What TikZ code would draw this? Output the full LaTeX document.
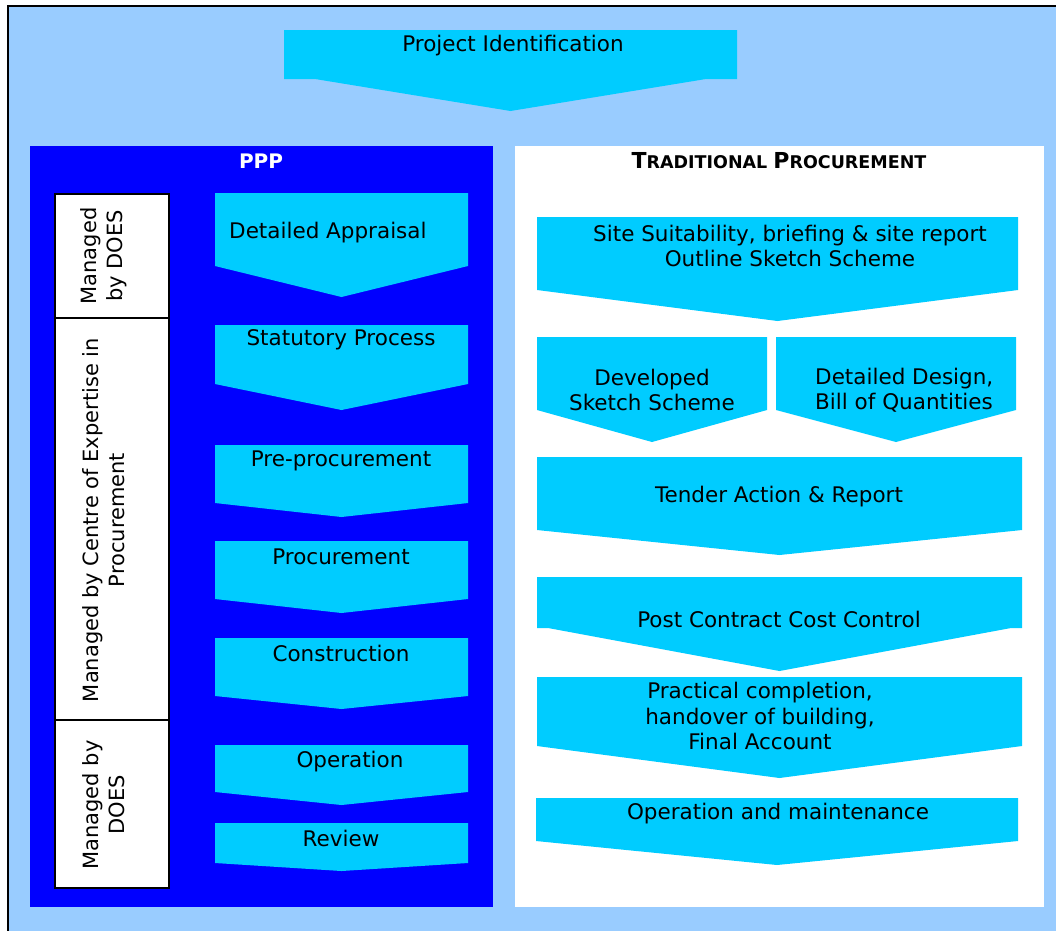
\documentclass[tikz,border=0pt]{standalone}
\usepackage{fontspec}
\setmainfont{DejaVu Sans}
\definecolor{frameblue}{HTML}{99CCFF}
\definecolor{cyanbox}{HTML}{00CCFF}
\definecolor{pppblue}{HTML}{0000FF}
\newcommand\chevshape[6]{% x1,x2,ytop,ybot,ytip,shoulder
  \fill[cyanbox] (#1,#3) -- (#2,#3) -- (#2,#4) -- ({#2-#6},#4) -- ({(#1+#2)/2},#5) -- ({#1+#6},#4) -- (#1,#4) -- cycle;}
\tikzset{
  lbl/.style={font=\fontsize{21.5}{25.5}\selectfont, text=black, align=center, inner sep=0pt, yshift=-2pt},
  sidebox/.style={draw=black, line width=2pt, fill=white},
  sidetext/.style={font=\fontsize{21}{26}\selectfont, rotate=90, align=center, inner sep=0pt}
}
\begin{document}
\begin{tikzpicture}[x=1pt,y=-1pt]
\useasboundingbox (0,0) rectangle (1056,930);
\clip (0,0) rectangle (1056,930);
\fill[white] (0,0) rectangle (1056,930);
% outer frame
\fill[frameblue, draw=black, line width=2pt] (8,6) rectangle (1080,960);
% project identification
\chevshape{284}{737}{30}{79}{111}{31}
\node[lbl] (proj) at (513,44) {Project Identification};
% panels
\fill[pppblue] (30,146) rectangle (493,907);
\fill[white] (515,146) rectangle (1044,907);
\node[font=\bfseries\fontsize{20}{24}\selectfont, text=white, inner sep=0pt] (ppp) at (261,161) {PPP};
\node[font=\bfseries, inner sep=0pt] (trad) at (779,161) {\fontsize{22}{24}\selectfont T\fontsize{17.5}{24}\selectfont RADITIONAL \fontsize{22}{24}\selectfont P\fontsize{17.5}{24}\selectfont ROCUREMENT};
% side boxes
\draw[sidebox] (55,194) rectangle (169,318);
\draw[sidebox] (55,318) rectangle (169,720);
\draw[sidebox] (55,720) rectangle (169,888);
\node[sidetext] (m1) at (104,256) {Managed\\by DOES};
\node[sidetext] (m2) at (104,520) {Managed by Centre of Expertise in\\Procurement};
\node[sidetext] (m3) at (104,805) {Managed by\\DOES};
% PPP chevrons
\chevshape{215}{468}{193}{266}{297}{0}
\chevshape{215}{468}{325}{384}{410}{0}
\chevshape{215}{468}{445}{503}{517}{0}
\chevshape{215}{468}{541}{599}{613}{0}
\chevshape{215}{468}{638}{696}{709}{0}
\chevshape{215}{468}{745}{792}{805}{0}
\chevshape{215}{468}{823}{863}{871}{0}
\node[lbl, anchor=west] (da) at (229,231) {Detailed Appraisal};
\node[lbl] (sp) at (341,338) {Statutory Process};
\node[lbl] (pre) at (341,459) {Pre-procurement};
\node[lbl] (proc) at (341,555) {Procurement};
\node[lbl] (cons) at (341,651) {Construction};
\node[lbl] (op) at (350,760) {Operation};
\node[lbl] (rev) at (341,836) {Review};
% Traditional chevrons
\chevshape{537}{1018}{217}{290}{321}{0}
\chevshape{537}{767}{337}{410}{442}{0}
\chevshape{776}{1016}{337}{410}{442}{0}
\chevshape{537}{1022}{457}{530}{555}{0}
\chevshape{537}{1022}{577}{628}{671}{11}
\chevshape{537}{1022}{677}{746}{778}{0}
\chevshape{536}{1018}{798}{841}{865}{0}
\node[lbl] (site) at (790,244) {Site Suitability, briefing \& site report\\Outline Sketch Scheme};
\node[lbl] (dev) at (652,388) {Developed\\Sketch Scheme};
\node[lbl, anchor=west, align=left] (dd) at (815,388) {Detailed Design,\\Bill of Quantities};
\node[lbl] (tender) at (779,495) {Tender Action \& Report};
\node[lbl] (post) at (779,617) {Post Contract Cost Control};
\node[lbl] (prac) at (760,714) {Practical completion,\\handover of building,\\Final Account};
\node[lbl] (om) at (778,812) {Operation and maintenance};
\end{tikzpicture}
\end{document}
